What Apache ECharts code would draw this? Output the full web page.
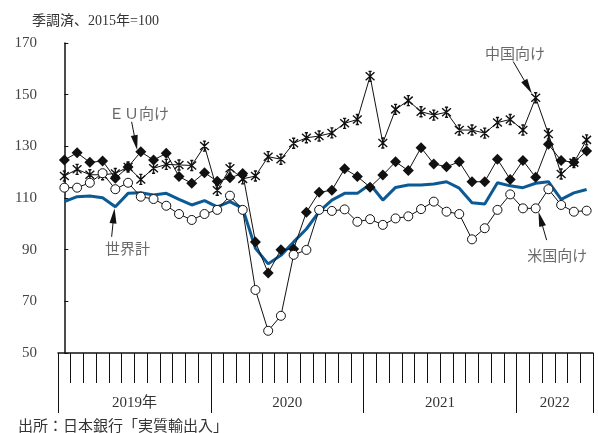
<!DOCTYPE html>
<html>
<head>
<meta charset="utf-8">
<script src="https://cdn.jsdelivr.net/npm/echarts@6/dist/echarts.min.js"></script>
<style>
  html, body { margin: 0; padding: 0; background: #fff; }
  #chart { width: 598px; height: 433px; }
</style>
</head>
<body>
<div id="chart"></div>
<script>
// Monthly categories, Jan 2019 – Jun 2022
const months = [
  '2019-01','2019-02','2019-03','2019-04','2019-05','2019-06','2019-07','2019-08','2019-09','2019-10','2019-11','2019-12',
  '2020-01','2020-02','2020-03','2020-04','2020-05','2020-06','2020-07','2020-08','2020-09','2020-10','2020-11','2020-12',
  '2021-01','2021-02','2021-03','2021-04','2021-05','2021-06','2021-07','2021-08','2021-09','2021-10','2021-11','2021-12',
  '2022-01','2022-02','2022-03','2022-04','2022-05','2022-06'
];

// Year captions under the axis, keyed by the month index they sit on
const yearLabelIndex = [5, 17, 29, 38];
const yearLabels = ['2019年', '2020', '2021', '2022'];

// Real exports, seasonally adjusted, 2015 = 100
const worldTotal = [
  108.6, 110.5, 110.8, 110.1, 106.6, 111.8, 112.0, 111.2, 111.8, 109.5, 107.3, 109.0,
  106.6, 108.6, 106.0, 90.5, 84.5, 87.8, 93.0, 98.0, 104.7, 109.2, 111.8, 111.8,
  115.3, 109.2, 114.1, 115.0, 115.0, 115.4, 116.3, 113.8, 108.2, 107.7, 115.9, 114.7,
  114.0, 115.7, 116.3, 109.5, 112.0, 113.3
];
const toUS = [
  114.0, 114.0, 115.9, 119.6, 113.4, 115.9, 110.5, 109.6, 107.0, 103.8, 101.5, 103.8,
  105.4, 110.9, 105.4, 74.4, 58.6, 64.4, 88.0, 89.9, 105.4, 105.0, 105.6, 100.8,
  101.8, 99.6, 102.1, 102.9, 105.7, 108.6, 104.7, 103.8, 94.0, 98.3, 105.4, 111.4,
  106.0, 106.0, 113.4, 107.3, 104.7, 105.1
];
const toEU = [
  124.7, 127.5, 123.8, 124.3, 117.6, 122.0, 127.9, 124.7, 127.3, 118.3, 115.7, 119.8,
  116.5, 117.8, 119.5, 93.0, 81.0, 90.0, 90.3, 104.5, 112.2, 113.0, 121.3, 118.3,
  114.2, 118.9, 124.0, 120.6, 129.5, 123.2, 122.1, 124.0, 116.3, 116.3, 125.0, 117.2,
  124.5, 118.0, 130.8, 124.5, 123.8, 128.2
];
const toChina = [
  118.5, 121.1, 119.0, 119.0, 119.5, 122.0, 117.2, 121.5, 123.0, 122.8, 122.6, 130.1,
  113.0, 121.5, 117.4, 118.5, 126.0, 125.0, 131.2, 133.3, 134.0, 135.2, 138.9, 140.4,
  157.1, 131.3, 144.3, 147.7, 143.4, 142.1, 143.2, 136.3, 136.3, 135.1, 139.2, 140.4,
  136.3, 148.8, 134.8, 119.3, 123.7, 132.5
];

// Callout captions: [month position, value, text]
const callouts = [
  [5.85, 142.9, 'ＥＵ向け'],
  [35.37, 166.1, '中国向け'],
  [4.95, 90.5, '世界計'],
  [38.7, 87.9, '米国向け']
];
// Callout arrows: from [month, value] to [month, value]
const arrows = [
  [[5.28, 139.5], [5.6, 131.4]],
  [[35.24, 162.8], [36.4, 153.0]],
  [[3.71, 95.0], [3.88, 103.1]],
  [[37.86, 93.7], [37.38, 101.9]]
];

const SERIF = '"Liberation Serif", "DejaVu Serif", "Noto Sans CJK JP", serif';
const CJK = '"Noto Sans CJK JP", "Liberation Serif", sans-serif';
const INK = '#111';
const starPath = 'path://M0,-5 L0,5 M-4.4,-4 L4.4,4 M-4.4,4 L4.4,-4 M-1.6,-5 L1.6,-5 M-1.6,5 L1.6,5';

const chart = echarts.init(document.getElementById('chart'), null, { renderer: 'canvas' });

const grid = { left: 58, right: 5, top: 43, bottom: 80, containLabel: false };

chart.setOption({
  animation: false,
  backgroundColor: '#fff',
  title: [
    {
      text: '季調済、2015年=100',
      left: 27, top: 9,
      textStyle: { fontFamily: SERIF, fontSize: 14, fontWeight: 'normal', color: '#333' }
    },
    {
      text: '出所：日本銀行「実質輸出入」',
      left: 13, top: 413,
      textStyle: { fontFamily: CJK, fontSize: 15, fontWeight: 'normal', color: '#333' }
    }
  ],
  grid: grid,
  xAxis: [
    {
      // month ticks
      type: 'category',
      data: months,
      boundaryGap: true,
      axisLine: { show: true, lineStyle: { color: INK, width: 1.5 } },
      axisTick: { show: true, interval: 0, length: 30, lineStyle: { color: INK, width: 1 } },
      axisLabel: { show: false },
      splitLine: { show: false }
    },
    {
      // year boundaries and year captions
      type: 'category',
      data: months,
      boundaryGap: true,
      position: 'bottom',
      axisLine: { show: false },
      axisTick: {
        show: true, length: 60,
        interval: function (i) { return i % 12 === 0; },
        lineStyle: { color: INK, width: 1 }
      },
      axisLabel: {
        show: true,
        interval: function (i) { return yearLabelIndex.indexOf(i) >= 0; },
        formatter: function (v, i) {
          const k = yearLabelIndex.indexOf(i);
          return k >= 0 ? yearLabels[k] : '';
        },
        margin: 43,
        padding: [0, 0, 0, 12.7],
        fontFamily: SERIF, fontSize: 15, color: '#333'
      },
      splitLine: { show: false }
    },
    {
      // continuous month scale for callouts
      type: 'value',
      min: -0.5, max: 41.5,
      show: false
    }
  ],
  yAxis: {
    type: 'value',
    min: 50, max: 170, interval: 20,
    axisLine: { show: true, lineStyle: { color: INK, width: 1.5 } },
    axisTick: { show: true, inside: true, length: 4, lineStyle: { color: INK, width: 1 } },
    axisLabel: { margin: 21, fontFamily: SERIF, fontSize: 15, color: '#444' },
    splitLine: { show: false }
  },
  series: [
    {
      name: '世界計',
      type: 'line',
      data: worldTotal,
      showSymbol: false,
      symbol: 'none',
      lineStyle: { color: '#0b5a96', width: 3 },
      z: 2
    },
    {
      name: '中国向け',
      type: 'line',
      data: toChina,
      showSymbol: true,
      showAllSymbol: true,
      symbol: starPath,
      symbolSize: 10,
      symbolKeepAspect: true,
      itemStyle: { color: 'rgba(0,0,0,0)', borderColor: INK, borderWidth: 1.4 },
      lineStyle: { color: INK, width: 1 },
      z: 3
    },
    {
      name: 'EU向け',
      type: 'line',
      data: toEU,
      showSymbol: true,
      showAllSymbol: true,
      symbol: 'diamond',
      symbolSize: 11,
      itemStyle: { color: INK, borderColor: INK, borderWidth: 0 },
      lineStyle: { color: INK, width: 1 },
      z: 4
    },
    {
      name: '米国向け',
      type: 'line',
      data: toUS,
      showSymbol: true,
      showAllSymbol: true,
      symbol: 'circle',
      symbolSize: 9,
      itemStyle: { color: '#fff', borderColor: INK, borderWidth: 1 },
      lineStyle: { color: INK, width: 1 },
      z: 5
    },
    {
      name: 'callouts',
      type: 'scatter',
      xAxisIndex: 2,
      data: callouts.map(function (c) { return [c[0], c[1], c[2]]; }),
      symbolSize: 0,
      silent: true,
      label: {
        show: true,
        position: 'inside',
        formatter: function (p) { return p.data[2]; },
        fontFamily: CJK, fontSize: 15, color: '#444'
      },
      markLine: {
        silent: true,
        symbol: ['none', 'triangle'],
        symbolSize: [7, 15],
        label: { show: false },
        itemStyle: { color: INK },
        lineStyle: { color: INK, width: 1, type: 'solid' },
        data: arrows.map(function (a) {
          return [{ coord: a[0] }, { coord: a[1] }];
        })
      },
      z: 6
    }
  ]
});
</script>
</body>
</html>
